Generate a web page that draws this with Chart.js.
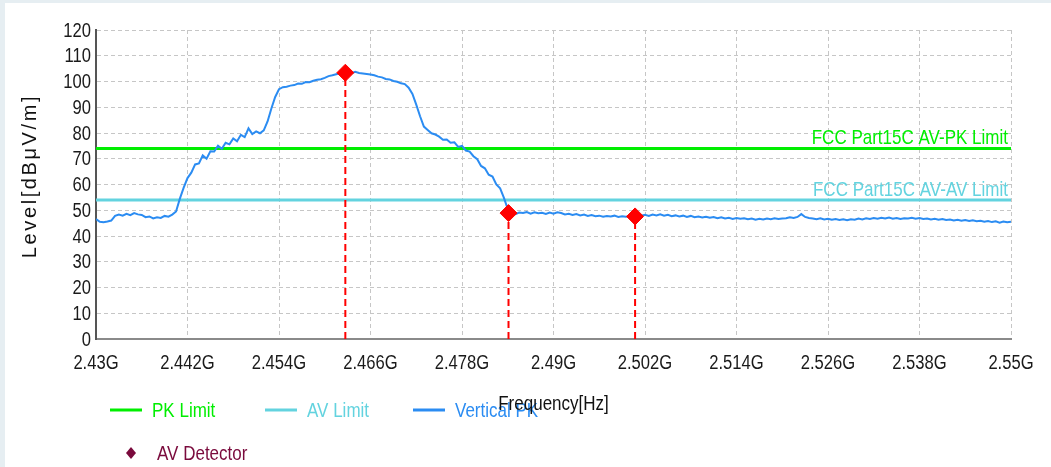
<!DOCTYPE html>
<html>
<head>
<meta charset="utf-8">
<script src="https://cdn.jsdelivr.net/npm/chart.js@4.4.1/dist/chart.umd.min.js"></script>
<style>
  html, body { margin: 0; padding: 0; background: #e6eef2; }
  #wrap { position: absolute; left: 5px; top: 3px; width: 1046px; height: 464px; background: #fff; }
  canvas { display: block; }
</style>
</head>
<body>
<div id="wrap"><canvas id="Chart" width="1046" height="464"></canvas></div>
<script>
'use strict';
// ********************** DATA (MHz / dBuV/m) *********************

let sweepFreq = [
  2430, 2430.5, 2431, 2431.5, 2432, 2432.5, 2433, 2433.5, 2434, 2434.5,
  2435, 2435.5, 2436, 2436.5, 2437, 2437.5, 2438, 2438.5, 2439, 2439.5,
  2440, 2440.5, 2441, 2441.5, 2442, 2442.5, 2443, 2443.5, 2444, 2444.5,
  2445, 2445.5, 2446, 2446.5, 2447, 2447.5, 2448, 2448.5, 2449, 2449.5,
  2450, 2450.5, 2451, 2451.5, 2452, 2452.5, 2453, 2453.5, 2454, 2454.5,
  2455, 2455.5, 2456, 2456.5, 2457, 2457.5, 2458, 2458.5, 2459, 2459.5,
  2460, 2460.5, 2461, 2461.5, 2462, 2462.5, 2463, 2463.5, 2464, 2464.5,
  2465, 2465.5, 2466, 2466.5, 2467, 2467.5, 2468, 2468.5, 2469, 2469.5,
  2470, 2470.5, 2471, 2471.5, 2472, 2472.5, 2473, 2473.5, 2474, 2474.5,
  2475, 2475.5, 2476, 2476.5, 2477, 2477.5, 2478, 2478.5, 2479, 2479.5,
  2480, 2480.5, 2481, 2481.5, 2482, 2482.5, 2483, 2483.5, 2484, 2484.5,
  2485, 2485.5, 2486, 2486.5, 2487, 2487.5, 2488, 2488.5, 2489, 2489.5,
  2490, 2490.5, 2491, 2491.5, 2492, 2492.5, 2493, 2493.5, 2494, 2494.5,
  2495, 2495.5, 2496, 2496.5, 2497, 2497.5, 2498, 2498.5, 2499, 2499.5,
  2500, 2500.5, 2501, 2501.5, 2502, 2502.5, 2503, 2503.5, 2504, 2504.5,
  2505, 2505.5, 2506, 2506.5, 2507, 2507.5, 2508, 2508.5, 2509, 2509.5,
  2510, 2510.5, 2511, 2511.5, 2512, 2512.5, 2513, 2513.5, 2514, 2514.5,
  2515, 2515.5, 2516, 2516.5, 2517, 2517.5, 2518, 2518.5, 2519, 2519.5,
  2520, 2520.5, 2521, 2521.5, 2522, 2522.5, 2523, 2523.5, 2524, 2524.5,
  2525, 2525.5, 2526, 2526.5, 2527, 2527.5, 2528, 2528.5, 2529, 2529.5,
  2530, 2530.5, 2531, 2531.5, 2532, 2532.5, 2533, 2533.5, 2534, 2534.5,
  2535, 2535.5, 2536, 2536.5, 2537, 2537.5, 2538, 2538.5, 2539, 2539.5,
  2540, 2540.5, 2541, 2541.5, 2542, 2542.5, 2543, 2543.5, 2544, 2544.5,
  2545, 2545.5, 2546, 2546.5, 2547, 2547.5, 2548, 2548.5, 2549, 2549.5,
  2550
];

let verticalPK = [
  46.6, 45.5, 45.3, 45.6, 46.0, 47.8, 48.3, 47.9, 48.6, 48.1,
  48.9, 48.4, 48.2, 47.3, 47.6, 46.8, 47.3, 47.0, 47.8, 47.5,
  48.3, 49.5, 54.5, 58.8, 62.5, 64.6, 67.8, 68.2, 71.3, 70.0,
  72.9, 72.8, 75.1, 73.9, 76.2, 75.6, 77.9, 76.8, 79.3, 78.4,
  81.8, 79.6, 80.6, 79.9, 81.0, 84.5, 89.5, 94.0, 97.0, 97.8,
  98.0, 98.4, 98.6, 99.2, 99.1, 99.8, 99.7, 100.3, 100.7, 100.9,
  101.4, 102.1, 102.4, 102.8, 103.2, 103.5, 103.6, 103.2, 103.8, 103.3,
  103.1, 102.9, 102.7, 102.4, 101.9, 101.6, 101.0, 100.8, 100.2, 99.9,
  99.3, 99.0, 97.6, 95.2, 91.0, 86.5, 82.5, 81.2, 79.9, 79.4,
  78.6, 77.4, 77.5, 76.2, 76.4, 74.6, 75.0, 73.2, 72.8, 71.0,
  69.8, 67.2, 66.3, 63.8, 63.1, 60.0, 58.5, 54.8, 50.5, 49.0,
  48.5, 49.1, 48.9, 49.3, 48.7, 49.2, 48.8, 49.0, 48.6, 49.1,
  48.7, 49.2, 48.9, 48.4, 48.6, 48.2, 48.5, 48.0, 48.3, 47.8,
  48.1, 47.7, 47.9, 47.5, 47.8, 47.6, 47.9, 47.4, 47.7, 47.5,
  47.8, 47.6, 48.4, 47.9, 48.2, 47.8, 48.3, 48.0, 48.4, 47.9,
  48.2, 47.7, 48.0, 47.6, 47.9, 47.4, 47.8, 47.3, 47.6, 47.2,
  47.5, 47.1, 47.4, 46.9, 47.3, 46.8, 47.1, 46.6, 47.0, 46.7,
  46.9, 46.5, 46.8, 46.3, 46.7, 46.4, 46.8, 46.5, 46.9, 46.6,
  46.8, 46.9, 47.3, 47.0, 47.4, 48.5, 47.4, 47.0, 46.8, 46.5,
  46.9, 46.4, 46.7, 46.3, 46.6, 46.2, 46.5, 46.1, 46.5, 46.3,
  46.8, 46.4, 46.9, 46.6, 47.0, 46.7, 47.1, 46.8, 47.2, 46.7,
  47.0, 46.6, 46.9, 46.8, 47.1, 46.7, 47.0, 46.6, 46.8, 46.4,
  46.7, 46.3, 46.6, 46.2, 46.4, 46.0, 46.3, 45.9, 46.2, 45.8,
  46.1, 45.7, 45.9, 45.5, 45.8, 45.4, 45.7, 45.2, 45.6, 45.3,
  45.5
];

let detectorFreq = [2462.7, 2484.1, 2500.7];
let detectorLevel = [103.4, 48.9, 47.6];

let pkLimit = 74;
let avLimit = 54;
let limitText = ['FCC Part15C AV-PK Limit', 'FCC Part15C AV-AV Limit'];
let legendNames = ['PK Limit', 'AV Limit', 'Vertical PK', 'AV Detector'];

let freqMin = 2430;
let freqMax = 2550;
let freqStep = 12;
let levelMin = 0;
let levelMax = 120;
let levelStep = 10;

// ********************* STYLE ****************************
const FONT = "'Liberation Sans', Arial, sans-serif";
const NARROW = 0.81;
const GREEN = '#00ee00';
const CYAN = '#63d3df';
const BLUE = '#2b8cf2';
const RED = '#ff0000';
const MAROON = '#7a0a3c';

let canvasElem = document.getElementById('Chart');

// ********************* HELPERS ****************************
function limitLine(level) {
  return [{ x: freqMin, y: level }, { x: freqMax, y: level }];
}

function freqLabel(v) {
  return +(v / 1000).toFixed(3) + 'G';
}

// condensed text (the original uses a narrow face)
function narrowText(ctx, txt, x, y, align) {
  ctx.save();
  ctx.translate(x, y);
  ctx.scale(NARROW, 1);
  ctx.textAlign = align;
  ctx.fillText(txt, 0, 0);
  ctx.restore();
}

// draws tick labels, limit labels, axis titles and the legend
const overlayPlugin = {
  id: 'overlay',
  afterDraw(chart) {
    const { ctx, chartArea, scales } = chart;
    ctx.save();

    // tick labels
    ctx.fillStyle = '#1a1a1a';
    ctx.font = '20.5px ' + FONT;
    ctx.textBaseline = 'middle';
    scales.x.ticks.forEach(t => {
      narrowText(ctx, freqLabel(t.value), scales.x.getPixelForValue(t.value), chartArea.bottom + 24, 'center');
    });
    scales.y.ticks.forEach(t => {
      narrowText(ctx, String(t.value), chartArea.left - 5, scales.y.getPixelForValue(t.value) + 1, 'right');
    });

    // limit labels
    ctx.font = '21px ' + FONT;
    ctx.textBaseline = 'alphabetic';
    ctx.fillStyle = GREEN;
    narrowText(ctx, limitText[0], chartArea.right - 3, scales.y.getPixelForValue(pkLimit) - 4, 'right');
    ctx.fillStyle = CYAN;
    narrowText(ctx, limitText[1], chartArea.right - 3, scales.y.getPixelForValue(avLimit) - 4, 'right');

    // legend
    ctx.textBaseline = 'middle';
    let row1 = 407;
    let items = [[legendNames[0], GREEN, 105], [legendNames[1], CYAN, 260], [legendNames[2], BLUE, 408]];
    items.forEach(([txt, col, x]) => {
      ctx.strokeStyle = col;
      ctx.lineWidth = 3;
      ctx.beginPath();
      ctx.moveTo(x, row1);
      ctx.lineTo(x + 32, row1);
      ctx.stroke();
      ctx.fillStyle = col;
      narrowText(ctx, txt, x + 42, row1 + 1, 'left');
    });
    let row2 = 450;
    ctx.fillStyle = MAROON;
    ctx.beginPath();
    ctx.moveTo(126, row2 - 6);
    ctx.lineTo(131, row2);
    ctx.lineTo(126, row2 + 6);
    ctx.lineTo(121, row2);
    ctx.closePath();
    ctx.fill();
    narrowText(ctx, legendNames[3], 152, row2 + 1, 'left');

    // x title
    ctx.fillStyle = '#111';
    narrowText(ctx, 'Frequency[Hz]', (chartArea.left + chartArea.right) / 2, 401, 'center');

    // y title
    ctx.translate(25, 173);
    ctx.rotate(-Math.PI / 2);
    ctx.textAlign = 'center';
    ctx.font = '20px ' + FONT;
    ctx.letterSpacing = '2.6px';
    ctx.fillText('Level[dBμV/m]', 0, 0);
    ctx.restore();
  }
};

// ********************* THIS FUNCTION RENDERS THE CHART ************************
function renderChart() {
  let tracePoints = sweepFreq.map((f, i) => ({ x: f, y: verticalPK[i] }));
  let markerPoints = detectorFreq.map((f, i) => ({ x: f, y: detectorLevel[i] }));

  let dropLines = detectorFreq.map((f, i) => ({
    label: 'drop' + i,
    data: [{ x: f, y: levelMin }, { x: f, y: detectorLevel[i] }],
    borderColor: RED,
    borderWidth: 2,
    borderDash: [7, 4],
    pointRadius: 0,
    order: 1
  }));

  let chartObj = {
    type: 'line',
    data: {
      datasets: [
        {
          label: legendNames[3],
          data: markerPoints,
          showLine: false,
          pointStyle: 'rectRot',
          pointRadius: 8.5,
          pointBackgroundColor: RED,
          pointBorderColor: RED,
          pointBorderWidth: 1,
          order: 0
        },
        ...dropLines,
        {
          label: legendNames[2],
          data: tracePoints,
          borderColor: BLUE,
          borderWidth: 2,
          pointRadius: 0,
          order: 2
        },
        {
          label: legendNames[1],
          data: limitLine(avLimit),
          borderColor: CYAN,
          borderWidth: 3,
          pointRadius: 0,
          order: 3
        },
        {
          label: legendNames[0],
          data: limitLine(pkLimit),
          borderColor: GREEN,
          borderWidth: 3,
          pointRadius: 0,
          order: 3
        }
      ]
    },
    options: {
      responsive: false,
      animation: false,
      events: [],
      layout: { padding: { top: 27, right: 40, left: 0, bottom: 0 } },
      plugins: { legend: { display: false }, tooltip: { enabled: false } },
      scales: {
        x: {
          type: 'linear',
          min: freqMin,
          max: freqMax,
          afterFit: s => { s.height = 128; },
          ticks: { stepSize: freqStep, display: false, autoSkip: false },
          grid: { color: '#c6c6c6', lineWidth: 1, drawTicks: false },
          border: { display: true, color: '#8a8a8a', width: 2, dash: [4, 3] }
        },
        y: {
          min: levelMin,
          max: levelMax,
          afterFit: s => { s.width = 91; },
          ticks: { stepSize: levelStep, display: false, autoSkip: false },
          grid: { color: '#c6c6c6', lineWidth: 1, drawTicks: false },
          border: { display: true, color: '#555', width: 2, dash: [4, 3] }
        }
      }
    },
    plugins: [overlayPlugin]
  };
  new Chart(canvasElem, chartObj);
}

// ******************** EXECUTABLE CODE **************************
renderChart();
</script>
</body>
</html>
